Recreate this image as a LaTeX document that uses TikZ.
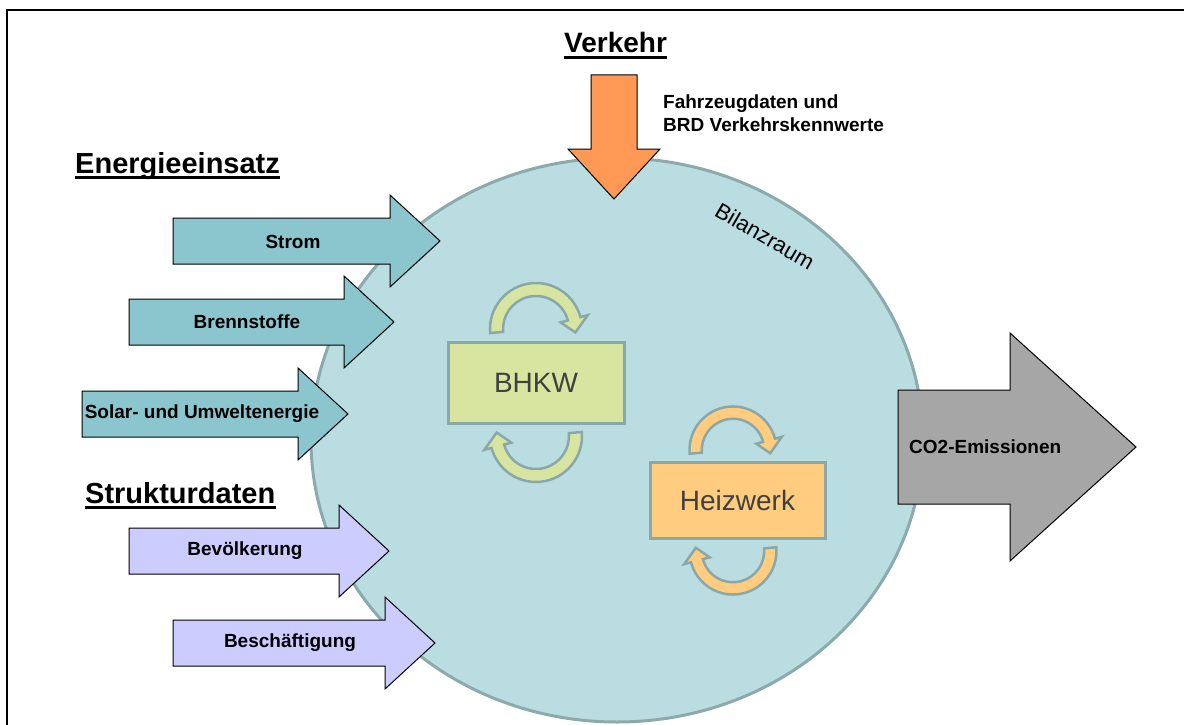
\documentclass[tikz,border=0pt]{standalone}
\usepackage{fontspec}
\setmainfont{Liberation Sans}
\usetikzlibrary{calc}
\definecolor{tealA}{RGB}{139,198,206}
\definecolor{lilac}{RGB}{204,204,255}
\definecolor{orangeA}{RGB}{255,153,85}
\definecolor{grayA}{RGB}{166,166,166}
\definecolor{circFill}{RGB}{185,221,225}
\definecolor{circLine}{RGB}{140,170,172}
\definecolor{limeA}{RGB}{215,229,160}
\definecolor{peach}{RGB}{255,204,128}
\definecolor{boxLine}{RGB}{138,168,168}
\definecolor{darkText}{RGB}{64,64,64}
% right-pointing block arrow: x0, x-head, x-tip, y-centre, half body, half head
\newcommand\rblock[7]{\draw[blockarrow,fill=#7] (#1,{#4-#5}) -- (#2,{#4-#5}) -- (#2,{#4-#6}) -- (#3,#4) -- (#2,{#4+#6}) -- (#2,{#4+#5}) -- (#1,{#4+#5}) -- cycle;}
\newcommand\cycpair[4]{%
  \begin{scope}[shift={(#1,#2)},scale=#3]
    \foreach \rot in {0,180}{
      \draw[cycline,fill=#4,rotate=\rot,shift={(0,-53.5)}]
        (175:46) arc[start angle=175,end angle=345,radius=46]
        -- (345:53.5) -- (5:39.5) -- (345:25.5) -- (345:33)
        arc[start angle=345,end angle=175,radius=33] -- cycle;
    }
  \end{scope}}
\tikzset{
  blockarrow/.style={draw=black,line width=1pt,line join=miter},
  cycline/.style={draw=boxLine,line width=2.5pt,line join=miter},
  lbl/.style={font=\bfseries\fontsize{19}{23}\selectfont,inner sep=0pt},
  heading/.style={font=\bfseries\fontsize{29}{34}\selectfont,inner sep=0pt,anchor=base west},
  plant/.style={draw=boxLine,line width=3pt,text=darkText,font=\fontsize{28}{33}\selectfont},
}
\begin{document}
\begin{tikzpicture}[x=1pt,y=1pt,yscale=-1]
\useasboundingbox (0,0) rectangle (1184,725);
% frame
\draw[line width=2pt] (7,726) -- (7,10) -- (1185,10);
% Bilanzraum
\draw[fill=circFill,draw=circLine,line width=3pt] (617,440) ellipse [x radius=306, y radius=282];
\node[font=\fontsize{22}{26}\selectfont,rotate=-30,inner sep=0pt] (bil) at (765,236) {Bilanzraum};
% plants
\node[plant,fill=limeA,minimum width=176pt,minimum height=81pt] (bhkw) at (536,382.5) {BHKW};
\node[plant,fill=peach,minimum width=175pt,minimum height=76pt] (hw) at (737.5,500) {Heizwerk};
\cycpair{536}{382.5}{1}{limeA}
\cycpair{733}{500.5}{0.945}{peach}
% headings
\node[heading] (h1) at (75,173) {Energieeinsatz};
\node[heading,font=\bfseries\fontsize{28}{33}\selectfont] (h2) at (564,53) {Verkehr};
\node[heading] (h3) at (85,503) {Strukturdaten};
\foreach \h in {h1,h2,h3}{
  \draw[line width=2.5pt] ($(\h.base west)+(0,4.5)$) -- ($(\h.base east)+(0,4.5)$);
}
% input arrows
\rblock{173}{390}{440}{241}{23}{46}{tealA}
\rblock{129}{344}{394}{322}{23}{46}{tealA}
\rblock{82}{298}{348}{414}{23}{46}{tealA}
\rblock{129}{339}{389}{551}{23}{46}{lilac}
\rblock{173}{385}{435}{643}{23}{46}{lilac}
\node[lbl] (strom) at (293,242) {Strom};
\node[lbl] (brenn) at (247,322) {Brennstoffe};
\node[lbl] (solar) at (202,414) {Solar- und Umweltenergie};
\node[lbl] (bev) at (245,551) {Bevölkerung};
\node[lbl] (besch) at (290,643) {Beschäftigung};
% Verkehr arrow (down)
\draw[blockarrow,fill=orangeA] (591,75) -- (637,75) -- (637,149) -- (660,149) -- (614,199) -- (568,149) -- (591,149) -- cycle;
\node[lbl,anchor=base west] (fz1) at (663,108) {Fahrzeugdaten und};
\node[lbl,anchor=base west] (fz2) at (663,131) {BRD Verkehrskennwerte};
% output arrow
\rblock{898}{1010}{1136}{447}{57}{114}{grayA}
\node[lbl,anchor=west] (co2) at (909,447) {CO2-Emissionen};
\end{tikzpicture}
\end{document}
